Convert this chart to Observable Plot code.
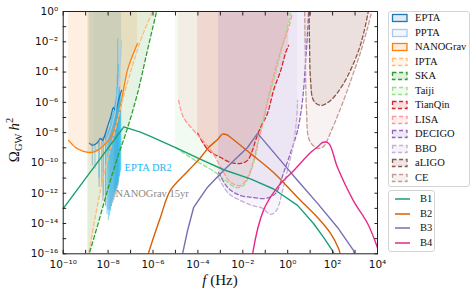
<!DOCTYPE html>
<html><head><meta charset="utf-8">
<script src="https://cdn.jsdelivr.net/npm/d3@7"></script>
<script src="https://cdn.jsdelivr.net/npm/@observablehq/plot@0.6"></script>
<style>
html,body{margin:0;padding:0;background:#fff;overflow:hidden;}
#wrap{position:absolute;left:0;top:0;width:476px;height:296px;overflow:hidden;font-family:"Liberation Serif","DejaVu Serif",serif;color:#111;}
#wrap > svg{position:absolute;left:0;top:0;width:476px;height:296px;max-width:none;}
.box{position:absolute;border:1px solid #d4d4d4;border-radius:3px;background:rgba(255,255,255,0.85);box-sizing:border-box;}
.lab{position:absolute;font-size:10.5px;line-height:12px;white-space:nowrap;transform:translateY(-50%);}
.sw{position:absolute;}
</style></head><body><div id="wrap"></div>
<script>
// ---------- data (log10 f [Hz], log10 Omega h^2) ----------
const xDomain = [1e-10, 1e4];
const yDomain = [1e-16, 1];
const fillTop = 1;
const xTickExp = [-10,-9,-8,-7,-6,-5,-4,-3,-2,-1,0,1,2,3,4];
const xLabelExp = [-10,-8,-6,-4,-2,0,2,4];
const yTickExp = [0,-1,-2,-3,-4,-5,-6,-7,-8,-9,-10,-11,-12,-13,-14,-15,-16];
const yLabelExp = [0,-2,-4,-6,-8,-10,-12,-14,-16];

// sensitivity curves
const eptaF  = [-8.83,-8.69,-8.47,-8.34,-8.25,-8.12,-7.98,-7.89,-7.76,-7.67,-7.54,-7.40];
const eptaO  = [-8.71,-8.84,-8.65,-8.38,-8.51,-8.05,-7.39,-7.00,-6.34,-6.53,-5.87,-5.21];
const pptaF  = [-8.61,-8.34,-8.07,-7.89,-7.71,-7.58,-7.49,-7.40];
const pptaO  = [-9.17,-8.98,-8.51,-7.85,-6.86,-5.54,-3.89,-1.91];
const nanoF  = [-9.76,-9.45,-9.10,-8.78,-8.47,-8.20,-7.89,-7.54,-7.36,-7.14,-6.91,-6.69];
const nanoO  = [-8.51,-8.98,-9.24,-9.31,-9.17,-8.84,-8.32,-7.00,-5.54,-3.89,-2.90,-2.11];
const iptaF  = [-8.90,-8.56,-8.20,-7.80,-7.36,-6.91,-6.47,-6.02];
const iptaO  = [-16.3,-13.47,-10.83,-8.51,-5.87,-3.56,-1.58,0.0];
const skaF   = [-8.90,-8.43,-8.03,-7.58,-7.14,-6.69,-6.25,-5.84];
const skaO   = [-16.3,-13.93,-11.82,-9.64,-7.72,-5.41,-2.57,0.0];
const taijiF = [-5.00,-4.33,-3.66,-3.22,-2.77,-2.32,-1.97,-1.66,-1.43,-1.21,-0.94,-0.63,-0.19,0.13];
const taijiO = [-8.98,-9.64,-10.23,-10.63,-11.16,-11.62,-11.49,-10.63,-9.50,-7.85,-6.20,-4.55,-2.05,-0.13];
const tianqinF = [-4.01,-3.53,-2.99,-2.54,-2.10,-1.79,-1.57,-1.43,-1.21,-0.90,-0.63,-0.31,-0.09,0.04];
const tianqinO = [-8.05,-9.17,-9.64,-9.97,-10.03,-9.83,-9.17,-8.51,-7.66,-6.73,-5.21,-3.89,-2.71,-2.24];
const lisaF  = [-4.86,-4.64,-4.19,-3.79,-3.35,-2.90,-2.54,-2.10,-1.79,-1.52,-1.34,-1.07,-0.76,-0.31,0.00,0.21];
const lisaO  = [-5.87,-7.00,-7.85,-8.51,-9.31,-10.50,-11.29,-11.49,-10.96,-9.83,-8.71,-7.19,-5.02,-2.57,-1.25,-0.13];
const decigoF = [-3.08,-2.64,-2.10,-1.57,-0.99,-0.54,-0.18,0.13,0.44,0.66,0.80,0.89,0.93];
const decigoO = [-10.63,-11.68,-12.15,-12.28,-12.34,-12.01,-10.63,-9.31,-7.85,-5.87,-3.23,-1.25,0.0];
const bboF   = [-3.08,-2.64,-2.10,-1.57,-1.12,-0.77,-0.50,-0.23,0.04,0.26,0.39,0.44];
const bboO   = [-10.96,-12.01,-12.48,-12.81,-13.00,-13.40,-13.14,-11.82,-10.17,-8.71,-7.19,-5.87];
const ligoF  = [0.95,0.97,1.02,1.15,1.46,1.91,2.49,3.11,3.38,3.60];
const ligoO  = [0.4,-1.91,-4.55,-5.87,-6.20,-5.87,-4.75,-2.77,-1.45,0.07];
const ceF    = [0.75,0.79,0.84,0.97,1.33,1.60,1.91,2.49,2.89,3.24,3.55,3.73];
const ceO    = [0.4,-3.23,-6.53,-8.51,-9.04,-8.91,-7.99,-5.87,-4.22,-2.71,-1.12,-0.07];

// free-spectrum posteriors (violins): frequency in nHz, range in log10 Omega h^2
const ng15Freq = [2.0,4.0,5.9,7.9,9.9,11.9,13.8,15.8,17.8,19.8,21.7,23.7,25.7,27.7];
const ng15Hi   = [-8.7,-8.6,-8.3,-8.1,-7.9,-7.7,-7.5,-7.3,-7.1,-6.9,-6.7,-6.5,-6.3,-6.1];
const ng15Lo   = [-10.2,-11.6,-12.5,-12.9,-13.1,-13.1,-12.9,-12.7,-12.5,-12.3,-12.1,-11.9,-11.7,-11.5];
const eptaFreq = [2.6,3.9,5.1,6.4,7.7,9.0,10.3,11.6,12.8,14.1,15.4,16.7,18.0,19.3,20.6,21.8,23.1,24.4,25.7,27.0,28.3,29.6,30.9,32.1,33.4,35.0,37.0];
const eptaHi   = [-8.8,-8.7,-8.6,-8.4,-8.2,-8.0,-7.8,-7.6,-7.3,-7.0,-6.8,-6.6,-6.4,-6.2,-6.0,-5.8,-5.6,-5.0,-4.2,-1.8,-3.5,-5.0,-5.2,-5.0,-5.5,-5.4,-6.0];
const eptaLo   = [-10.4,-11.0,-11.6,-12.2,-12.8,-13.4,-13.8,-13.5,-13.2,-12.9,-12.6,-12.4,-12.2,-12.0,-11.9,-11.8,-11.7,-11.6,-11.5,-11.4,-11.3,-11.2,-11.0,-10.9,-10.8,-10.6,-10.5];

// model spectra B1..B4
const b1F = [-10.0,-7.30,-6.56,-6.11,-4.92,-3.90,-2.85,-1.66,-0.63,0.44,1.15,1.59,2.00,2.10];
const b1O = [-13.02,-7.62,-7.97,-8.25,-9.04,-9.75,-10.45,-11.05,-11.72,-12.8,-14.0,-14.9,-15.8,-16.1];
const b2F = [-6.25,-6.20,-5.67,-5.22,-4.42,-3.88,-3.50,-3.12,-2.90,-2.70,-2.54,-1.66,-0.63,0.44,1.33,1.91,2.26,2.35];
const b2O = [-16.3,-15.97,-13.6,-11.8,-10.5,-9.64,-8.95,-8.45,-8.10,-8.15,-8.32,-9.37,-10.63,-12.28,-13.6,-14.65,-15.64,-16.1];
const b3F = [-4.72,-4.68,-4.46,-4.19,-3.57,-2.86,-1.79,-1.34,-0.32,0.44,1.33,2.22,2.93,3.00];
const b3O = [-16.3,-15.97,-14.46,-12.94,-11.6,-10.5,-8.98,-8.05,-9.83,-11.16,-12.67,-14.26,-15.78,-16.1];
const b4F = [-1.58,-1.56,-1.07,-0.45,0.27,1.03,1.40,1.55,1.82,2.22,2.93,3.56,4.00];
const b4O = [-16.3,-15.97,-13.1,-11.6,-10.5,-9.3,-8.85,-8.65,-8.7,-10.3,-12.5,-14.0,-15.6];

// annotations
const annText = ["EPTA DR2", "NANOGrav 15yr"];
const annF = [-7.27, -7.67];
const annO = [-10.3, -12.0];

// ---------- build ----------
const pts = (F, O) => F.map((f, i) => ({f: 10 ** f, o: 10 ** O[i]}));
const tab = {EPTA:"#1f77b4", PPTA:"#aec7e8", NANOGrav:"#ff7f0e", IPTA:"#ffbb78", SKA:"#2ca02c", Taiji:"#98df8a",
  TianQin:"#d62728", LISA:"#ff9896", DECIGO:"#9467bd", BBO:"#c5b0d5", aLIGO:"#8c564b", CE:"#c49c94"};
const sens = [
  ["EPTA", eptaF, eptaO, false], ["PPTA", pptaF, pptaO, false], ["NANOGrav", nanoF, nanoO, false],
  ["IPTA", iptaF, iptaO, true], ["SKA", skaF, skaO, true], ["Taiji", taijiF, taijiO, true],
  ["TianQin", tianqinF, tianqinO, true], ["LISA", lisaF, lisaO, true], ["DECIGO", decigoF, decigoO, true],
  ["BBO", bboF, bboO, true], ["aLIGO", ligoF, ligoO, true], ["CE", ceF, ceO, true]
];
const models = [["B1", "#1b9e77", b1F, b1O, "linear"], ["B2", "#d95f02", b2F, b2O, "catmull-rom"],
  ["B3", "#7570b3", b3F, b3O, "linear"], ["B4", "#e7298a", b4F, b4O, "catmull-rom"]];

const supMap = {"-":"⁻","0":"⁰","1":"¹","2":"²","3":"³","4":"⁴","5":"⁵","6":"⁶","7":"⁷","8":"⁸","9":"⁹"};
const sup = v => "10" + String(Math.round(Math.log10(v))).split("").map(c => supMap[c]).join("");

const marks = [];
for (const [name, F, O, dashed] of sens) {
  const d = pts(F, O);
  marks.push(Plot.areaY(d, {x: "f", y1: "o", y2: () => fillTop, fill: tab[name], fillOpacity: 0.12, curve: "catmull-rom", clip: true}));
}
const ng = ng15Freq.map((f, i) => ({f: f * 1e-9, lo: 10 ** ng15Lo[i], hi: 10 ** ng15Hi[i]}));
const ep = eptaFreq.map((f, i) => ({f: f * 1e-9, lo: 10 ** eptaLo[i], hi: 10 ** eptaHi[i]}));
marks.push(Plot.ruleX(ng, {x: "f", y1: "lo", y2: "hi", stroke: "#8a8a8a", strokeWidth: 1.4, strokeOpacity: 0.45, clip: true}));
marks.push(Plot.ruleX(ep, {x: "f", y1: "lo", y2: "hi", stroke: "#1ab8f5", strokeWidth: 1, strokeOpacity: 0.55, clip: true}));
for (const [name, F, O, dashed] of sens) {
  const d = pts(F, O);
  marks.push(Plot.line(d, {x: "f", y: "o", stroke: tab[name], strokeWidth: 1.3, curve: "catmull-rom", clip: true,
    strokeDasharray: dashed ? "4,2.6" : null}));
}
for (const [name, c, F, O, cv] of models) {
  marks.push(Plot.line(pts(F, O), {x: "f", y: "o", stroke: c, strokeWidth: 1.4, curve: cv, clip: true}));
}
const ann = annText.map((t, i) => ({t, f: 10 ** annF[i], o: 10 ** annO[i]}));
marks.push(Plot.text(ann, {x: "f", y: "o", text: "t", textAnchor: "start", fill: (d, i) => i === 0 ? "#1ab8f5" : "#8a8a8a",
  fontFamily: "Liberation Serif, serif", fontSize: 10.5}));
marks.push(Plot.frame({stroke: "#222", strokeWidth: 1}));
const xT = xTickExp.map(e => 10 ** e), yT = yTickExp.map(e => 10 ** e);
marks.push(Plot.axisX({anchor: "bottom", ticks: xT, tickSize: 3.5, dy: -3.5, tickFormat: () => "", label: null, stroke: "#222"}));
marks.push(Plot.axisX({anchor: "top", ticks: xT, tickSize: 3.5, dy: 3.5, tickFormat: () => "", label: null, stroke: "#222"}));
marks.push(Plot.axisY({anchor: "left", ticks: yT, tickSize: 3.5, dx: 3.5, tickFormat: () => "", label: null, stroke: "#222"}));
marks.push(Plot.axisY({anchor: "right", ticks: yT, tickSize: 3.5, dx: -3.5, tickFormat: () => "", label: null, stroke: "#222"}));
marks.push(Plot.axisX({anchor: "bottom", ticks: xLabelExp.map(e => 10 ** e), tickSize: 0, tickPadding: 7, tickFormat: sup, label: null,
  fontSize: 10.5, fontFamily: "DejaVu Sans", fill: "#111"}));
marks.push(Plot.axisY({anchor: "left", ticks: yLabelExp.map(e => 10 ** e), tickSize: 0, tickPadding: 5, tickFormat: sup, label: null,
  fontSize: 10.5, fontFamily: "DejaVu Sans", fill: "#111"}));

const chart = Plot.plot({
  width: 476, height: 296,
  marginLeft: 62.7, marginRight: 99, marginTop: 11, marginBottom: 42.7,
  x: {type: "log", domain: xDomain},
  y: {type: "log", domain: yDomain},
  style: {background: "transparent", fontFamily: "DejaVu Sans", fontSize: "10px", overflow: "visible"},
  marks
});
const wrap = document.getElementById("wrap");
wrap.appendChild(chart);

// ---------- legend & axis titles (HTML) ----------
function addBox(l, t, w, h) { const b = document.createElement("div"); b.className = "box";
  Object.assign(b.style, {left: l + "px", top: t + "px", width: w + "px", height: h + "px"}); wrap.appendChild(b); }
addBox(388, 11, 82, 176);
addBox(388, 190, 47, 62);
const NS = "http://www.w3.org/2000/svg";
sens.forEach(([name, F, O, dashed], i) => {
  const cy = 18.3 + 14.5 * i;
  const s = document.createElementNS(NS, "svg"); s.setAttribute("class", "sw");
  s.setAttribute("width", 18); s.setAttribute("height", 10);
  s.style.left = "391px"; s.style.top = (cy - 5) + "px";
  const r = document.createElementNS(NS, "rect");
  r.setAttribute("x", 1.5); r.setAttribute("y", 1.5); r.setAttribute("width", 14.5); r.setAttribute("height", 7);
  r.setAttribute("fill", tab[name]); r.setAttribute("fill-opacity", 0.15);
  r.setAttribute("stroke", tab[name]); r.setAttribute("stroke-width", 1.3);
  if (dashed) r.setAttribute("stroke-dasharray", "4,2.6");
  s.appendChild(r); wrap.appendChild(s);
  const t = document.createElement("div"); t.className = "lab"; t.textContent = name;
  t.style.left = "415px"; t.style.top = cy + "px"; wrap.appendChild(t);
});
models.forEach(([name, c], i) => {
  const cy = 199.3 + 14.5 * i;
  const s = document.createElementNS(NS, "svg"); s.setAttribute("class", "sw");
  s.setAttribute("width", 18); s.setAttribute("height", 6);
  s.style.left = "394px"; s.style.top = (cy - 3) + "px";
  const l = document.createElementNS(NS, "line");
  l.setAttribute("x1", 1); l.setAttribute("x2", 16); l.setAttribute("y1", 3); l.setAttribute("y2", 3);
  l.setAttribute("stroke", c); l.setAttribute("stroke-width", 1.5);
  s.appendChild(l); wrap.appendChild(s);
  const t = document.createElement("div"); t.className = "lab"; t.textContent = name;
  t.style.left = "420px"; t.style.top = cy + "px"; wrap.appendChild(t);
});
const yl = document.createElement("div");
yl.innerHTML = 'Ω<span style="font-size:10.5px;position:relative;top:3px">GW</span>&thinsp;<i>h</i><span style="font-size:10.5px;position:relative;top:-6px">2</span>';
Object.assign(yl.style, {position: "absolute", left: "15px", top: "140px", transform: "translate(-50%,-50%) rotate(-90deg)",
  fontSize: "15px", whiteSpace: "nowrap", lineHeight: "16px"});
wrap.appendChild(yl);
const xl = document.createElement("div");
xl.innerHTML = '<i>f</i> (Hz)';
Object.assign(xl.style, {position: "absolute", left: "220px", top: "280px", transform: "translate(-50%,-50%)",
  fontSize: "15px", whiteSpace: "nowrap", lineHeight: "16px"});
wrap.appendChild(xl);
</script></body></html>
